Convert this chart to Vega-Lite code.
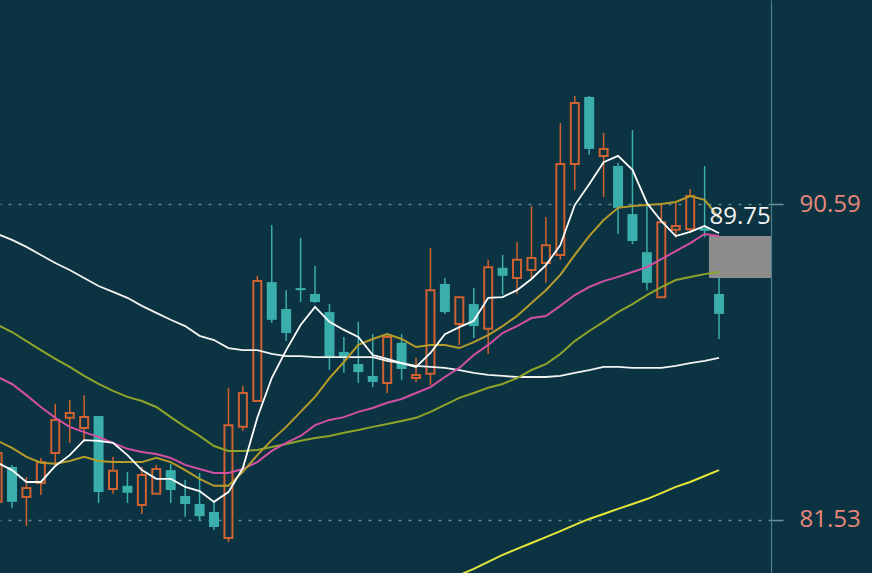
{
  "$schema": "https://vega.github.io/schema/vega-lite/v6.json",
  "width": 771,
  "height": 573,
  "autosize": {"type": "none"},
  "padding": {"left": 0, "top": 0, "right": 101, "bottom": 0},
  "background": "#0b3342",
  "config": {
    "view": {"stroke": null},
    "axis": {
      "labelColor": "#e8887b", "labelFontSize": 24, "labelFont": "Open Sans", "labelPadding": 16,
      "ticks": true, "tickSize": 12, "tickColor": "#6a929c", "tickWidth": 1.5,
      "domain": true, "domainColor": "#4d7f8c", "domainWidth": 1.2,
      "grid": true, "gridColor": "#5e8a95", "gridDash": [3, 7], "gridWidth": 1.5
    }
  },
  "datasets": {
    "k": [
      {"i":-1,"o":82.05,"h":83.54,"l":81.96,"c":83.45,"m5":83.17,"m10":83.80,"m20":85.63,"m30":87.12,"m60":89.73,"m120":null},
      {"i":0,"o":83.05,"h":83.11,"l":81.87,"c":82.05,"m5":82.96,"m10":83.60,"m20":85.43,"m30":86.92,"m60":89.56,"m120":null},
      {"i":1,"o":82.19,"h":82.76,"l":81.36,"c":82.45,"m5":82.62,"m10":83.34,"m20":85.11,"m30":86.66,"m60":89.36,"m120":null},
      {"i":2,"o":82.59,"h":83.31,"l":82.25,"c":83.19,"m5":82.62,"m10":83.17,"m20":84.77,"m30":86.40,"m60":89.13,"m120":null},
      {"i":3,"o":83.45,"h":84.86,"l":83.11,"c":84.40,"m5":83.08,"m10":83.14,"m20":84.46,"m30":86.15,"m60":88.90,"m120":null},
      {"i":4,"o":84.46,"h":84.97,"l":83.74,"c":84.60,"m5":83.39,"m10":83.22,"m20":84.20,"m30":85.92,"m60":88.70,"m120":null},
      {"i":5,"o":84.17,"h":85.11,"l":83.82,"c":84.48,"m5":83.82,"m10":83.34,"m20":84.05,"m30":85.66,"m60":88.47,"m120":null},
      {"i":6,"o":84.51,"h":84.51,"l":82.02,"c":82.33,"m5":83.80,"m10":83.22,"m20":83.91,"m30":85.43,"m60":88.24,"m120":null},
      {"i":7,"o":82.42,"h":83.34,"l":82.28,"c":82.94,"m5":83.74,"m10":83.19,"m20":83.74,"m30":85.23,"m60":88.07,"m120":null},
      {"i":8,"o":82.51,"h":82.91,"l":82.02,"c":82.31,"m5":83.39,"m10":83.19,"m20":83.57,"m30":85.06,"m60":87.90,"m120":null},
      {"i":9,"o":81.96,"h":83.05,"l":81.70,"c":82.82,"m5":82.96,"m10":83.19,"m20":83.48,"m30":84.94,"m60":87.67,"m120":null},
      {"i":10,"o":82.28,"h":83.11,"l":82.28,"c":82.99,"m5":82.71,"m10":83.31,"m20":83.42,"m30":84.77,"m60":87.47,"m120":null},
      {"i":11,"o":82.96,"h":83.14,"l":82.02,"c":82.39,"m5":82.71,"m10":83.19,"m20":83.31,"m30":84.48,"m60":87.27,"m120":null},
      {"i":12,"o":82.22,"h":82.68,"l":81.62,"c":81.99,"m5":82.48,"m10":82.96,"m20":83.11,"m30":84.20,"m60":87.09,"m120":null},
      {"i":13,"o":81.99,"h":82.88,"l":81.50,"c":81.64,"m5":82.36,"m10":82.71,"m20":82.99,"m30":83.94,"m60":86.81,"m120":null},
      {"i":14,"o":81.76,"h":82.05,"l":81.24,"c":81.33,"m5":82.05,"m10":82.51,"m20":82.88,"m30":83.65,"m60":86.69,"m120":null},
      {"i":15,"o":81.01,"h":85.32,"l":80.90,"c":84.25,"m5":82.33,"m10":82.51,"m20":82.88,"m30":83.51,"m60":86.46,"m120":null},
      {"i":16,"o":84.20,"h":85.37,"l":84.08,"c":85.17,"m5":83.02,"m10":82.91,"m20":82.99,"m30":83.51,"m60":86.40,"m120":null},
      {"i":17,"o":84.94,"h":88.53,"l":84.94,"c":88.38,"m5":84.46,"m10":83.39,"m20":83.19,"m30":83.54,"m60":86.40,"m120":null},
      {"i":18,"o":88.35,"h":89.99,"l":87.18,"c":87.27,"m5":85.60,"m10":83.82,"m20":83.51,"m30":83.62,"m60":86.29,"m120":null},
      {"i":19,"o":87.58,"h":88.12,"l":86.66,"c":86.89,"m5":86.40,"m10":84.20,"m20":83.74,"m30":83.71,"m60":86.23,"m120":null},
      {"i":20,"o":88.18,"h":89.62,"l":87.78,"c":88.12,"m5":87.12,"m10":84.63,"m20":83.94,"m30":83.80,"m60":86.23,"m120":null},
      {"i":21,"o":88.01,"h":88.81,"l":87.75,"c":87.78,"m5":87.64,"m10":85.06,"m20":84.25,"m30":83.88,"m60":86.20,"m120":null},
      {"i":22,"o":87.49,"h":87.72,"l":85.83,"c":86.18,"m5":87.21,"m10":85.60,"m20":84.40,"m30":83.94,"m60":86.20,"m120":null},
      {"i":23,"o":86.35,"h":86.78,"l":85.75,"c":86.20,"m5":86.98,"m10":86.06,"m20":84.48,"m30":84.03,"m60":86.20,"m120":null},
      {"i":24,"o":86.00,"h":87.21,"l":85.46,"c":85.77,"m5":86.78,"m10":86.55,"m20":84.63,"m30":84.11,"m60":86.20,"m120":null},
      {"i":25,"o":85.66,"h":86.86,"l":85.34,"c":85.49,"m5":86.26,"m10":86.72,"m20":84.74,"m30":84.20,"m60":86.20,"m120":null},
      {"i":26,"o":85.46,"h":86.83,"l":85.17,"c":86.78,"m5":86.15,"m10":86.86,"m20":84.89,"m30":84.28,"m60":86.09,"m120":null},
      {"i":27,"o":86.61,"h":86.86,"l":85.54,"c":85.86,"m5":86.03,"m10":86.72,"m20":85.00,"m30":84.37,"m60":86.03,"m120":null},
      {"i":28,"o":85.60,"h":86.18,"l":85.49,"c":85.69,"m5":85.92,"m10":86.49,"m20":85.17,"m30":84.46,"m60":85.95,"m120":null},
      {"i":29,"o":85.72,"h":89.33,"l":85.40,"c":88.12,"m5":86.32,"m10":86.55,"m20":85.34,"m30":84.63,"m60":85.92,"m120":null},
      {"i":30,"o":88.30,"h":88.47,"l":87.44,"c":87.49,"m5":86.86,"m10":86.55,"m20":85.63,"m30":84.83,"m60":85.89,"m120":79.78},
      {"i":31,"o":87.15,"h":87.92,"l":86.55,"c":87.92,"m5":87.06,"m10":86.46,"m20":85.89,"m30":85.03,"m60":85.83,"m120":79.95},
      {"i":32,"o":87.72,"h":88.18,"l":86.75,"c":87.09,"m5":87.24,"m10":86.63,"m20":86.26,"m30":85.17,"m60":85.75,"m120":80.13},
      {"i":33,"o":87.01,"h":88.99,"l":86.29,"c":88.78,"m5":87.90,"m10":86.83,"m20":86.55,"m30":85.32,"m60":85.69,"m120":80.33},
      {"i":34,"o":88.76,"h":89.13,"l":87.98,"c":88.53,"m5":87.92,"m10":87.09,"m20":86.89,"m30":85.43,"m60":85.66,"m120":80.53},
      {"i":35,"o":88.47,"h":89.50,"l":88.01,"c":88.99,"m5":88.12,"m10":87.38,"m20":87.09,"m30":85.60,"m60":85.63,"m120":80.70},
      {"i":36,"o":88.70,"h":90.53,"l":88.47,"c":89.04,"m5":88.44,"m10":87.75,"m20":87.32,"m30":85.83,"m60":85.63,"m120":80.87},
      {"i":37,"o":88.90,"h":90.22,"l":88.33,"c":89.41,"m5":88.84,"m10":88.12,"m20":87.38,"m30":86.00,"m60":85.63,"m120":81.04},
      {"i":38,"o":89.13,"h":92.91,"l":88.99,"c":91.74,"m5":89.41,"m10":88.56,"m20":87.67,"m30":86.29,"m60":85.66,"m120":81.21},
      {"i":39,"o":91.74,"h":93.69,"l":90.99,"c":93.49,"m5":90.56,"m10":89.13,"m20":87.98,"m30":86.66,"m60":85.75,"m120":81.39},
      {"i":40,"o":93.66,"h":93.69,"l":92.00,"c":92.17,"m5":91.16,"m10":89.67,"m20":88.21,"m30":86.95,"m60":85.83,"m120":81.56},
      {"i":41,"o":91.97,"h":92.63,"l":90.79,"c":92.17,"m5":91.79,"m10":90.13,"m20":88.38,"m30":87.21,"m60":85.92,"m120":81.70},
      {"i":42,"o":91.68,"h":91.77,"l":89.73,"c":90.48,"m5":91.97,"m10":90.48,"m20":88.50,"m30":87.49,"m60":85.92,"m120":81.85},
      {"i":43,"o":90.30,"h":92.71,"l":89.44,"c":89.53,"m5":91.57,"m10":90.53,"m20":88.64,"m30":87.72,"m60":85.89,"m120":81.99},
      {"i":44,"o":89.21,"h":90.56,"l":88.12,"c":88.33,"m5":90.62,"m10":90.56,"m20":88.78,"m30":87.98,"m60":85.89,"m120":82.13},
      {"i":45,"o":87.92,"h":90.62,"l":87.90,"c":90.07,"m5":90.10,"m10":90.59,"m20":89.01,"m30":88.21,"m60":85.89,"m120":82.30},
      {"i":46,"o":89.85,"h":90.62,"l":89.62,"c":89.96,"m5":89.67,"m10":90.65,"m20":89.24,"m30":88.41,"m60":85.95,"m120":82.48},
      {"i":47,"o":89.87,"h":91.02,"l":89.76,"c":90.82,"m5":89.79,"m10":90.82,"m20":89.47,"m30":88.50,"m60":86.03,"m120":82.62},
      {"i":48,"o":89.90,"h":91.68,"l":89.64,"c":89.82,"m5":89.96,"m10":90.71,"m20":89.73,"m30":88.58,"m60":86.09,"m120":82.79},
      {"i":49,"o":88.01,"h":88.47,"l":86.72,"c":87.44,"m5":89.75,"m10":90.19,"m20":89.67,"m30":88.64,"m60":86.18,"m120":82.96}
    ],
    "box": [{"x1": 48.3, "x2": 52.6, "y1": 89.67, "y2": 88.47}],
    "lbl": [{"i": 52.58, "p": 90.22, "t": "89.75"}]
  },
  "layer": [
    {
      "data": {"name": "k"},
      "mark": {"type": "rule", "strokeWidth": 1.5, "clip": true},
      "encoding": {
        "x": {"field": "i", "type": "quantitative", "scale": {"domain": [-0.832, 52.6], "nice": false, "zero": false, "padding": 0}, "axis": null},
        "y": {"field": "l", "type": "quantitative", "scale": {"domain": [80.01, 96.44], "nice": false, "zero": false},
              "axis": {"orient": "right", "values": [81.53, 90.59], "format": ".2f", "title": null}},
        "y2": {"field": "h"},
        "color": {"condition": {"test": "datum.c >= datum.o", "value": "#cf6230"}, "value": "#3aaeab"}
      }
    },
    {
      "data": {"name": "box"},
      "mark": {"type": "rect", "color": "#8c8c8c", "clip": true},
      "encoding": {
        "x": {"field": "x1", "type": "quantitative", "axis": null},
        "x2": {"field": "x2"},
        "y": {"field": "y1", "type": "quantitative", "axis": {"orient": "right", "values": [81.53, 90.59], "format": ".2f", "title": null}},
        "y2": {"field": "y2"}
      }
    },
    {
      "data": {"name": "k"},
      "transform": [{"filter": "datum.c >= datum.o"}],
      "mark": {"type": "bar", "size": 8, "fill": "#0b3342", "stroke": "#cf6230", "strokeWidth": 2, "clip": true},
      "encoding": {
        "x": {"field": "i", "type": "quantitative", "axis": null},
        "y": {"field": "o", "type": "quantitative", "axis": {"orient": "right", "values": [81.53, 90.59], "format": ".2f", "title": null}},
        "y2": {"field": "c"}
      }
    },
    {
      "data": {"name": "k"},
      "transform": [{"filter": "datum.c < datum.o"}],
      "mark": {"type": "bar", "size": 10, "fill": "#3aaeab", "clip": true},
      "encoding": {
        "x": {"field": "i", "type": "quantitative", "axis": null},
        "y": {"field": "o", "type": "quantitative", "axis": {"orient": "right", "values": [81.53, 90.59], "format": ".2f", "title": null}},
        "y2": {"field": "c"}
      }
    },
    {
      "data": {"name": "k"},
      "mark": {"type": "line", "color": "#f2f2f2", "strokeWidth": 1.8, "clip": true},
      "encoding": {
        "x": {"field": "i", "type": "quantitative", "axis": null},
        "y": {"field": "m60", "type": "quantitative", "axis": {"orient": "right", "values": [81.53, 90.59], "format": ".2f", "title": null}}
      }
    },
    {
      "data": {"name": "k"},
      "mark": {"type": "line", "color": "#8fa42a", "strokeWidth": 2, "clip": true},
      "encoding": {
        "x": {"field": "i", "type": "quantitative", "axis": null},
        "y": {"field": "m30", "type": "quantitative", "axis": {"orient": "right", "values": [81.53, 90.59], "format": ".2f", "title": null}}
      }
    },
    {
      "data": {"name": "k"},
      "mark": {"type": "line", "color": "#d24fa3", "strokeWidth": 2, "clip": true},
      "encoding": {
        "x": {"field": "i", "type": "quantitative", "axis": null},
        "y": {"field": "m20", "type": "quantitative", "axis": {"orient": "right", "values": [81.53, 90.59], "format": ".2f", "title": null}}
      }
    },
    {
      "data": {"name": "k"},
      "mark": {"type": "line", "color": "#b79c2c", "strokeWidth": 2, "clip": true},
      "encoding": {
        "x": {"field": "i", "type": "quantitative", "axis": null},
        "y": {"field": "m10", "type": "quantitative", "axis": {"orient": "right", "values": [81.53, 90.59], "format": ".2f", "title": null}}
      }
    },
    {
      "data": {"name": "k"},
      "mark": {"type": "line", "color": "#ffffff", "strokeWidth": 1.8, "clip": true},
      "encoding": {
        "x": {"field": "i", "type": "quantitative", "axis": null},
        "y": {"field": "m5", "type": "quantitative", "axis": {"orient": "right", "values": [81.53, 90.59], "format": ".2f", "title": null}}
      }
    },
    {
      "data": {"name": "k"},
      "transform": [{"filter": "isValid(datum.m120)"}],
      "mark": {"type": "line", "color": "#e6e63c", "strokeWidth": 2, "clip": true},
      "encoding": {
        "x": {"field": "i", "type": "quantitative", "axis": null},
        "y": {"field": "m120", "type": "quantitative", "axis": {"orient": "right", "values": [81.53, 90.59], "format": ".2f", "title": null}}
      }
    },
    {
      "data": {"name": "lbl"},
      "mark": {"type": "text", "align": "right", "baseline": "middle", "fontSize": 24, "font": "Open Sans", "color": "#f4f4f4"},
      "encoding": {
        "x": {"field": "i", "type": "quantitative", "axis": null},
        "y": {"field": "p", "type": "quantitative", "axis": {"orient": "right", "values": [81.53, 90.59], "format": ".2f", "title": null}},
        "text": {"field": "t"}
      }
    }
  ]
}
